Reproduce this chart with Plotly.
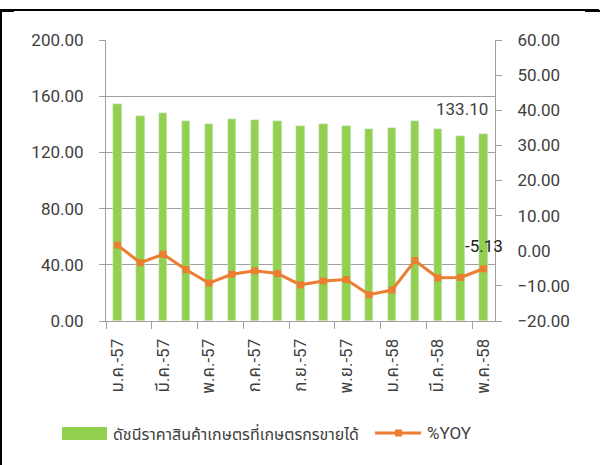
import plotly.graph_objects as go

months = ["ม.ค.-57", "ก.พ.-57", "มี.ค.-57", "เม.ย.-57", "พ.ค.-57", "มิ.ย.-57",
          "ก.ค.-57", "ส.ค.-57", "ก.ย.-57", "ต.ค.-57", "พ.ย.-57", "ธ.ค.-57",
          "ม.ค.-58", "ก.พ.-58", "มี.ค.-58", "เม.ย.-58", "พ.ค.-58"]
index_values = [154.3, 146.2, 147.9, 142.2, 140.3, 143.6, 143.1, 142.2, 138.8,
                140.0, 138.6, 136.9, 137.2, 142.2, 136.7, 131.5, 133.1]
yoy_values = [1.6, -3.4, -1.0, -5.4, -9.2, -6.7, -5.7, -6.5, -9.7,
              -8.6, -8.2, -12.5, -11.2, -2.8, -7.7, -7.6, -5.13]
bar_name = "ดัชนีราคาสินค้าเกษตรที่เกษตรกรขายได้"
line_name = "%YOY"

GREEN = "#92D050"
ORANGE = "#ED7D31"
GRID = "#A0A0A0"
TXT = "#404040"
FONT = "Roboto, 'Noto Sans Thai', 'Noto Sans', sans-serif"

L, R, T, B = 106, 495, 40, 321
def px(xp):
    return (xp - L) / (R - L)
def py(yp):
    return (B - yp) / (B - T)

x = list(range(len(months)))

fig = go.Figure()
fig.add_trace(go.Bar(x=x, y=index_values, name=bar_name, marker_color=GREEN,
                     width=0.37, showlegend=False, hoverinfo="y"))
fig.add_trace(go.Scatter(x=x, y=yoy_values, name=line_name, yaxis="y2",
                         mode="lines+markers",
                         line=dict(color=ORANGE, width=3),
                         marker=dict(symbol="square", size=7, color=ORANGE),
                         showlegend=False))
# invisible trace to activate the boundary-tick axis
fig.add_trace(go.Scatter(x=[x[0]], y=[0], xaxis="x2", mode="markers",
                         marker=dict(opacity=0), showlegend=False, hoverinfo="skip"))

fig.update_layout(
    width=600, height=465,
    margin=dict(l=L, r=600 - R, t=T, b=465 - B),
    paper_bgcolor="white", plot_bgcolor="white",
    font=dict(family=FONT, size=16, color=TXT),
    bargap=0,
    xaxis=dict(range=[-0.5, 16.5], tickmode="array", tickvals=x[::2],
               ticktext=months[::2], tickangle=-90, ticks="",
               showline=True, linecolor=GRID, linewidth=1, showgrid=False,
               zeroline=False, ticklabelstandoff=10, automargin=False,
               tickfont=dict(family=FONT, size=17, color=TXT)),
    xaxis2=dict(range=[-0.5, 16.5], overlaying="x", tickmode="array",
                tickvals=[i - 0.5 for i in range(0, 17, 2)],
                showticklabels=False, ticks="outside", ticklen=7,
                tickcolor=GRID, showgrid=False, zeroline=False, showline=False,
                automargin=False),
    yaxis=dict(range=[0, 200], dtick=40, tickformat=".2f", showgrid=True,
               gridcolor=GRID, gridwidth=1, ticks="outside", ticklen=6,
               tickcolor=GRID, showline=True, linecolor=GRID, zeroline=False,
               ticklabelstandoff=12, automargin=False,
               tickfont=dict(family=FONT, size=17, color=TXT)),
    yaxis2=dict(range=[-20, 60], dtick=10, tickformat=".2f", overlaying="y",
                side="right", showgrid=False, ticks="outside", ticklen=6,
                tickcolor=GRID, showline=True, linecolor=GRID, zeroline=False,
                ticklabelstandoff=12, automargin=False,
                tickfont=dict(family=FONT, size=17, color=TXT)),
)

fig.add_annotation(x=x[-1], y=index_values[-1], xref="x", yref="y",
                   text=f"{index_values[-1]:.2f}", showarrow=False,
                   xanchor="right", yanchor="middle", xshift=6, yshift=25,
                   font=dict(family=FONT, size=17, color=TXT))
fig.add_annotation(x=x[-1], y=yoy_values[-1], xref="x", yref="y2",
                   text=f"{yoy_values[-1]:.2f}", showarrow=False,
                   xanchor="center", yanchor="middle", yshift=23,
                   font=dict(family=FONT, size=17, color="#202020"))

# outer frame corner marks
fig.add_shape(type="line", xref="paper", yref="paper",
              x0=px(585), x1=px(600), y0=py(11), y1=py(11),
              line=dict(color="black", width=2))
fig.add_shape(type="line", xref="paper", yref="paper",
              x0=px(0), x1=px(14), y0=py(11), y1=py(11),
              line=dict(color="black", width=2))

# custom legend
fig.add_shape(type="rect", xref="paper", yref="paper",
              x0=px(62), x1=px(107), y0=py(440), y1=py(427),
              fillcolor=GREEN, line=dict(width=0))
fig.add_annotation(xref="paper", yref="paper", x=px(111), y=py(433.5),
                   text=bar_name, showarrow=False, xanchor="left", yanchor="middle",
                   font=dict(family=FONT, size=16, color=TXT))
fig.add_shape(type="line", xref="paper", yref="paper",
              x0=px(375), x1=px(421), y0=py(433), y1=py(433),
              line=dict(color=ORANGE, width=3))
fig.add_shape(type="rect", xref="paper", yref="paper",
              x0=px(395), x1=px(402), y0=py(436.5), y1=py(429.5),
              fillcolor=ORANGE, line=dict(width=0))
fig.add_annotation(xref="paper", yref="paper", x=px(425), y=py(433.5),
                   text=line_name, showarrow=False, xanchor="left", yanchor="middle",
                   font=dict(family=FONT, size=17, color=TXT))

frame_js = (
    "document.documentElement.style.overflow='hidden';"
    "document.body.style.margin='0';document.body.style.padding='0';"
    "document.body.style.overflow='hidden';"
    "var fr=document.createElement('div');"
    "fr.style.cssText='position:absolute;left:0px;top:9px;width:599px;height:456px;"
    "border-top:2px solid #000;border-left:2px solid #000;box-sizing:border-box;"
    "pointer-events:none;z-index:10;';"
    "document.body.appendChild(fr);"
)
fig.write_html("out.html", config={"displayModeBar": False}, post_script=frame_js)
